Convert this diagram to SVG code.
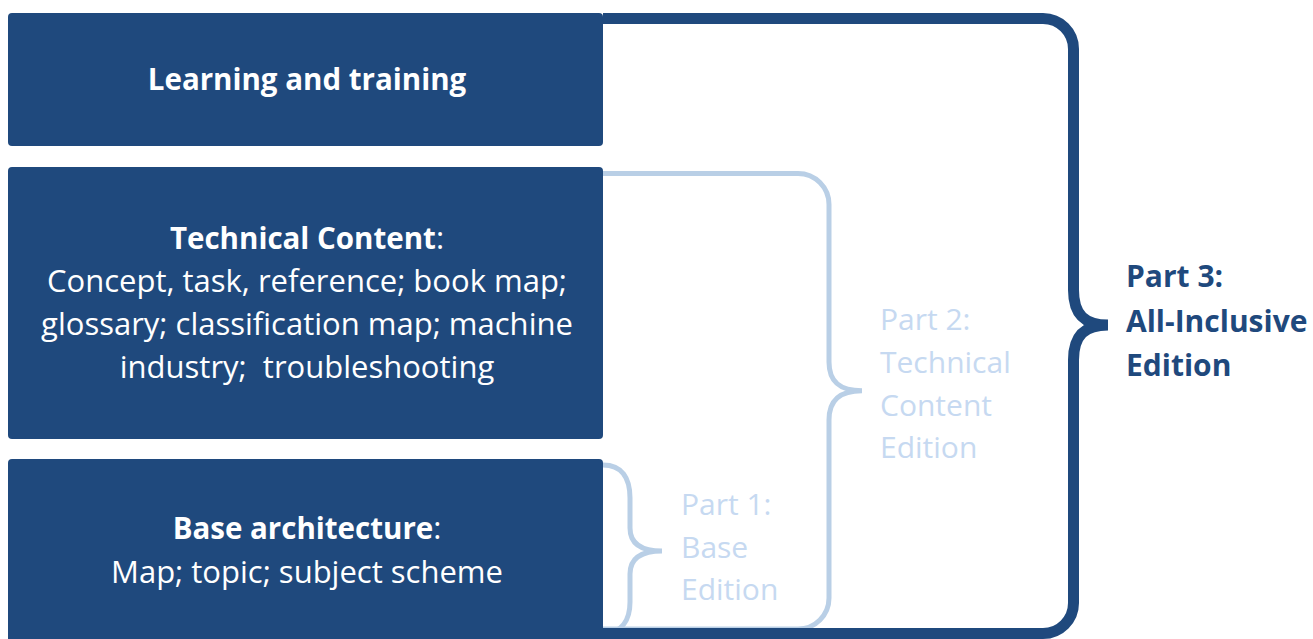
<svg xmlns="http://www.w3.org/2000/svg" width="1313" height="639" viewBox="0 0 1313 639">
<style>
.box{fill:#1f497d}
.t{font-family:"Open Sans","Noto Sans","Liberation Sans",sans-serif;font-size:31px;fill:#ffffff;text-anchor:middle}
.b{font-weight:bold;font-size:29.5px}
.lt{font-family:"Open Sans","Noto Sans","Liberation Sans",sans-serif;font-size:30px;fill:#c6d9f1}
.dt{font-family:"Open Sans","Noto Sans","Liberation Sans",sans-serif;font-size:30px;font-weight:bold;fill:#1f497d}
.lb{fill:none;stroke:#b9cfe6;stroke-width:5;stroke-linecap:round}
.db{fill:none;stroke:#1f497d;stroke-width:11}
</style>
<rect width="1313" height="639" fill="#ffffff"/>
<g id="connectors">
<path class="lb" d="M603 173.5 H798 A31 31 0 0 1 829 204.5 V362 C829 382 840 390.7 862 390.7 C840 390.7 829 400 829 420 V598 A31 31 0 0 1 798 629 H603"/>
<path class="lb" d="M603 465 C622 465 630 478 630 498 V528 C630 543 640 551 662 551 C640 551 630 559 630 574 V602 C630 620 622 632 605 634"/>
<path class="db" d="M603 18.5 H1043 A30.5 30.5 0 0 1 1073.5 49 V290 C1073.5 315 1085 325 1108 325 C1085 325 1073.5 335 1073.5 360 V603 A30.5 30.5 0 0 1 1043 633.5 H603"/>
</g>
<g id="learning">
<rect class="box" x="8" y="13" width="595" height="133" rx="4"/>
<text class="t b" x="307" y="90">Learning and training</text>
</g>
<g id="technical">
<rect class="box" x="8" y="167" width="595" height="272" rx="4"/>
<text class="t" x="307" y="249"><tspan class="b">Technical Content</tspan>:</text>
<text class="t" x="307" y="292">Concept, task, reference; book map;</text>
<text class="t" x="307" y="335">glossary; classification map; machine</text>
<text class="t" x="307" y="378" xml:space="preserve">industry;  troubleshooting</text>
</g>
<g id="base">
<rect class="box" x="8" y="459" width="595" height="186" rx="4"/>
<text class="t" x="307" y="539"><tspan class="b">Base architecture</tspan>:</text>
<text class="t" x="307" y="583">Map; topic; subject scheme</text>
</g>
<g id="part1">
<text class="lt" x="681" y="515">Part 1:</text>
<text class="lt" x="681" y="558">Base</text>
<text class="lt" x="681" y="600">Edition</text>
</g>
<g id="part2">
<text class="lt" x="880" y="330">Part 2:</text>
<text class="lt" x="880" y="373">Technical</text>
<text class="lt" x="880" y="416">Content</text>
<text class="lt" x="880" y="458">Edition</text>
</g>
<g id="part3">
<text class="dt" x="1126" y="287">Part 3:</text>
<text class="dt" x="1126" y="332">All-Inclusive</text>
<text class="dt" x="1126" y="376">Edition</text>
</g>
</svg>
